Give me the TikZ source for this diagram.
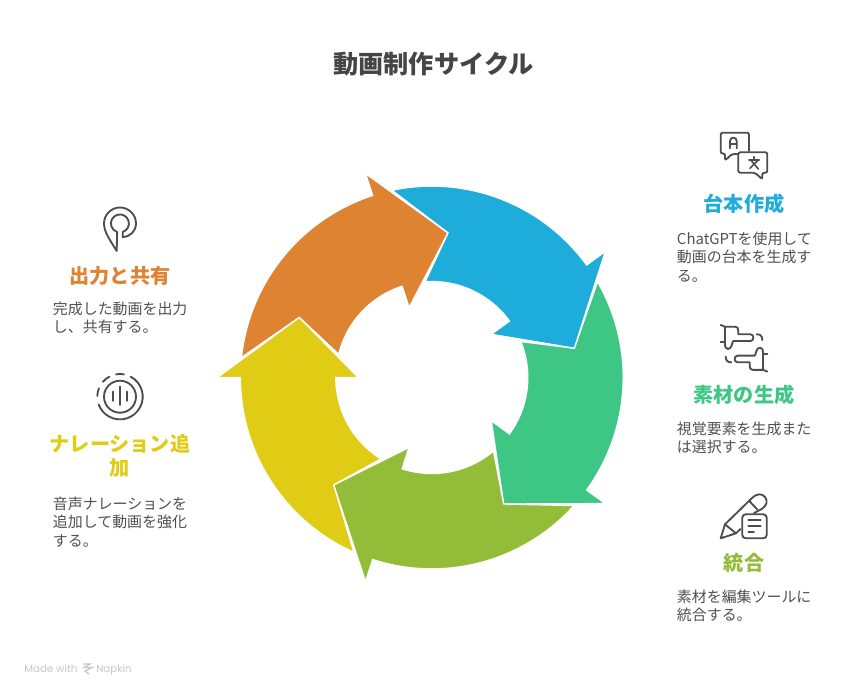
\documentclass[tikz,border=0pt]{standalone}
\usepackage{fontspec}
\setmainfont{Noto Sans CJK JP}
\newfontfamily\footfont{Poppins}
\usetikzlibrary{calc}
\definecolor{cblue}{HTML}{1EACDB}
\definecolor{cgreen}{HTML}{3EC685}
\definecolor{clime}{HTML}{93BD38}
\definecolor{cyellow}{HTML}{E0CC15}
\definecolor{corange}{HTML}{DE8331}
\definecolor{ctitle}{HTML}{454545}
\definecolor{cbody}{HTML}{505050}
\definecolor{cicon}{HTML}{4D4D4D}
\definecolor{cfoot}{HTML}{C8C8C8}
\tikzset{
  titletext/.style={font=\fontsize{18.9pt}{22pt}\selectfont\bfseries,text=ctitle,inner sep=0pt},
  headtext/.style={font=\fontsize{15.1pt}{18pt}\selectfont\bfseries,inner sep=0pt,align=center},
  bodytext/.style={font=\fontsize{11.2pt}{13.6pt}\selectfont,text=cbody,inner sep=0pt,align=left,anchor=north west},
  foottext/.style={font=\fontsize{7.7pt}{10pt}\selectfont\footfont,text=cfoot,inner sep=0pt,anchor=base west},
  ringseg/.style={draw=white,line width=1pt,line join=miter},
  iconline/.style={draw=cicon,line width=1.4pt,line cap=round,line join=round},
}
\newcommand{\ringarrow}[2]{%
  \fill[#2,ringseg] (431.8,377.5) ++(#1-66:191.4) arc[start angle=#1-66,end angle=#1,radius=191.4]
    -- ($(431.8,377.5)+(#1:214.5)$)
    -- ($(431.8,377.5)+(#1+24.4:145.5)$)
    -- ($(431.8,377.5)+(#1:73.5)$)
    -- ($(431.8,377.5)+(#1:96)$)
    arc[start angle=#1,end angle=#1-58,radius=96]
    -- ($(431.8,377.5)+(#1-47.6:145.5)$) -- cycle;
}
\begin{document}
\begin{tikzpicture}[x=0.75pt,y=-0.75pt]
\useasboundingbox (0,0) rectangle (864,696);
\ringarrow{36}{cgreen}
\ringarrow{108}{clime}
\ringarrow{180}{cyellow}
\ringarrow{252}{corange}
\ringarrow{324}{cblue}

\node[titletext] (title) at (433.5,64) {動画制作サイクル};

\node[headtext,text=cblue] (h1) at (744,203.5) {台本作成};
\node[bodytext] (b1) at (676.7,232) {ChatGPTを使用して\\動画の台本を生成す\\る。};
\node[headtext,text=cgreen] (h2) at (744,395) {素材の生成};
\node[bodytext] (b2) at (676.7,422) {視覚要素を生成また\\は選択する。};
\node[headtext,text=clime] (h3) at (744,562.5) {統合};
\node[bodytext] (b3) at (676.7,589.5) {素材を編集ツールに\\統合する。};
\node[headtext,text=corange] (h4) at (120,275.5) {出力と共有};
\node[bodytext] (b4) at (52.7,302) {完成した動画を出力\\し、共有する。};
\node[headtext,text=cyellow] (h5) at (120,456) {ナレーション追\\加};
\node[bodytext] (b5) at (52.7,497) {音声ナレーションを\\追加して動画を強化\\する。};

% translate icon
\draw[iconline,rounded corners=1.5pt] (749,151) -- (749,132.7) -- (720.7,132.7) -- (720.7,153.5) -- (725,153.5) -- (725,160.5) -- (732,154) -- (738,154);
\draw[iconline] (730,148.3) -- (730,141) arc[start angle=180,end angle=360,radius=3.35] -- (736.7,148.3);
\draw[iconline] (730,144) -- (736.7,144);
\draw[iconline,rounded corners=1.5pt] (738.3,152.3) -- (767.3,152.3) -- (767.3,172.7) -- (762.3,172.7) -- (762.3,179.3) -- (755,172.7) -- (738.3,172.7) -- cycle;
\draw[iconline,line width=1.2pt] (749,160) -- (759.3,160) (754,156.7) -- (754,160) (750.7,160) -- (758.3,169) (758.3,160) -- (750,168.3);

% hands icon
\foreach \rr in {0,180}{
\begin{scope}[rotate around={\rr:(744,348.3)}]
\draw[iconline] (720.7,325) -- (725,326.7) -- (735,326.7) .. controls (737.5,326.7) and (738.3,328) .. (738.3,331) -- (738.3,334.3) -- (750.5,334.3) .. controls (754.3,334.3) and (754.3,341) .. (750.5,341) -- (733.3,341) .. controls (732,342) and (732,349) .. (728,349) .. controls (725.5,349) and (725,347) .. (725,343) -- (725,326.7);
\draw[iconline] (720.7,342.3) -- (725,342.3);
\draw[iconline] (756.7,334.3) .. controls (760,334.3) and (762.3,335.5) .. (762.3,340);
\end{scope}
}

% pencil icon
\draw[iconline] (725,524.3) -- (720.7,538.3) -- (736,533.3) -- cycle;
\draw[iconline] (725,524.3) -- (751.7,498.3) .. controls (756,493.5) and (762,493) .. (765,497) .. controls (768,501) and (767,505.5) .. (761.7,509) -- (754,513);
\draw[iconline] (736,533.3) -- (740.5,529);
\draw[iconline] (749.3,501) -- (757.3,509.5);
\draw[iconline,rounded corners=2.5pt] (742.3,514.3) rectangle (766.7,538.3);
\draw[iconline] (748.3,520) -- (760.7,520) (748.3,526) -- (760.7,526) (748.3,532) -- (754,532);

% pin icon
\draw[iconline] (116.7,251) .. controls (110,240) and (104,232) .. (104,223.5) arc[start angle=180,end angle=360,radius=16] .. controls (136,231) and (130,237) .. (122.7,237) -- (122.7,232) arc[start angle=72,end angle=-252,radius=9] -- cycle;

% voice icon
\draw[iconline] (120,396.7) circle[radius=16];
\draw[iconline] (120,396.7) ++(-62:22.7) arc[start angle=-62,end angle=160,radius=22.7];
\draw[iconline] (120,396.7) ++(182:22.7) arc[start angle=182,end angle=202,radius=22.7];
\draw[iconline] (120,396.7) ++(221:22.7) arc[start angle=221,end angle=242,radius=22.7];
\draw[iconline] (120,396.7) ++(260:22.7) arc[start angle=260,end angle=280,radius=22.7];
\draw[iconline] (113.3,391.7) -- (113.3,401) (120,386.7) -- (120,405) (126.7,391.7) -- (126.7,401);

% footer
\node[foottext] (made) at (24,672) {Made with};
\node[foottext] (napkin) at (96,672) {Napkin};
\draw[cfoot,line width=1pt] (83,664) -- (90,664) -- (84,667.5) -- (92,667.5) -- (85,671) -- (89,674);
\end{tikzpicture}
\end{document}
